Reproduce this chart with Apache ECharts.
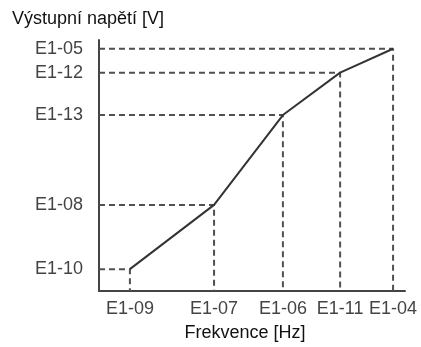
<!DOCTYPE html>
<html>
<head>
<meta charset="utf-8">
<script src="https://cdn.jsdelivr.net/npm/echarts@6/dist/echarts.min.js"></script>
<style>html,body{margin:0;padding:0;background:#fff;}#c{width:421px;height:347px;}</style>
</head>
<body>
<div id="c"></div>
<script>
// Frequency parameters (x) and their relative positions on the axis (0-100)
var freqLabels = ['E1-09', 'E1-07', 'E1-06', 'E1-11', 'E1-04'];
var freqValues = [10.1, 37.6, 60.1, 78.8, 96.1];
// Voltage parameters (y) and their relative positions on the axis (0-100)
var voltLabels = ['E1-10', 'E1-08', 'E1-13', 'E1-12', 'E1-05'];
var voltValues = [8.7, 34.3, 70.1, 87.0, 96.5];

var xTitle = 'Frekvence [Hz]';
var yTitle = 'Výstupní napětí [V]';

var font = 'Liberation Sans, Arial, sans-serif';
var mainPts = freqValues.map(function (x, i) { return [x, voltValues[i]]; });

var series = [];
freqValues.forEach(function (x, i) {
  series.push({
    type: 'line',
    data: [[0, voltValues[i]], [x, voltValues[i]], [x, 0]],
    symbol: 'none',
    silent: true,
    lineStyle: { color: '#505050', width: 2, type: [6, 4] },
    z: 2
  });
});
series.push({
  type: 'line',
  data: mainPts,
  symbol: 'none',
  lineStyle: { color: '#333', width: 2 },
  z: 3
});

var chart = echarts.init(document.getElementById('c'));
chart.setOption({
  animation: false,
  title: {
    text: yTitle, left: 12, top: 10, padding: 0,
    textStyle: { fontFamily: font, fontSize: 18, fontWeight: 'normal', color: '#111' }
  },
  grid: { left: 99, right: 16, top: 40, bottom: 53, containLabel: false },
  xAxis: {
    type: 'value', min: 0, max: 100,
    name: xTitle, nameLocation: 'middle', nameGap: 33,
    nameTextStyle: { fontFamily: font, fontSize: 18, color: '#111', padding: [0, 14, 0, 0] },
    axisLine: { show: true, lineStyle: { color: '#444', width: 2 } },
    axisTick: { show: false },
    splitLine: { show: false },
    axisLabel: {
      customValues: freqValues, margin: 9,
      fontFamily: font, fontSize: 18, color: '#444',
      formatter: function (v) { var k = freqValues.indexOf(v); return k >= 0 ? freqLabels[k] : ''; }
    }
  },
  yAxis: {
    type: 'value', min: 0, max: 100,
    axisLine: { show: true, lineStyle: { color: '#444', width: 2 } },
    axisTick: { show: false },
    splitLine: { show: false },
    axisLabel: {
      customValues: voltValues, margin: 16,
      fontFamily: font, fontSize: 18, color: '#444',
      padding: [0, 0, 6, 0],
      formatter: function (v) { var k = voltValues.indexOf(v); return k >= 0 ? voltLabels[k] : ''; }
    }
  },
  series: series
});
</script>
</body>
</html>
